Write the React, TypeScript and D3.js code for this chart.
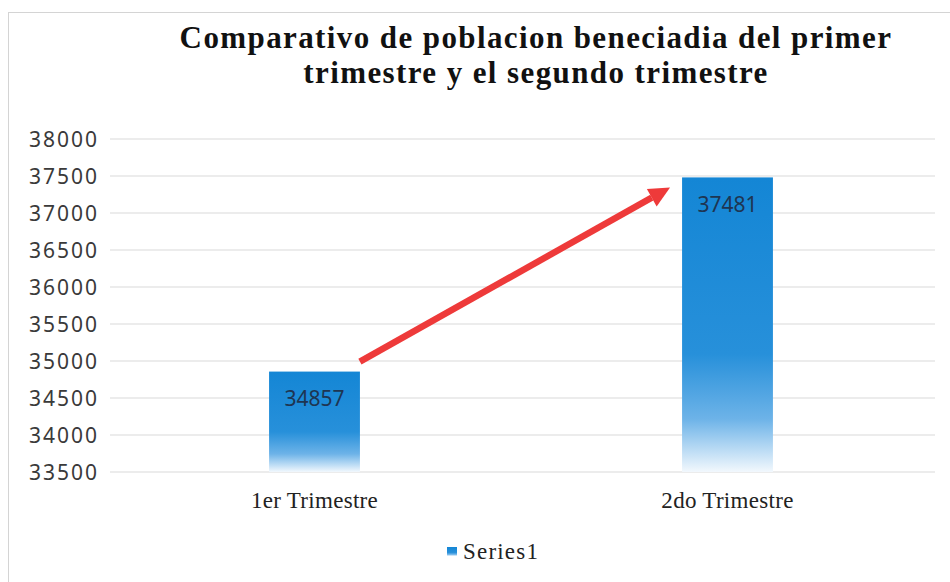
import React from "react";
import * as d3 from "d3";

const categories = ["1er Trimestre", "2do Trimestre"];
const values = [34857, 37481];
const yTicks = [33500, 34000, 34500, 35000, 35500, 36000, 36500, 37000, 37500, 38000];
const titleLines = ["Comparativo de poblacion beneciadia del primer", "trimestre y el segundo trimestre"];
const seriesName = "Series1";

const W = 950;
const H = 582;

export default function App() {
  const x = d3.scaleBand<string>().domain(categories).range([108, 934]).paddingInner(0.78).paddingOuter(0.39);
  const y = d3.scaleLinear().domain([33500, 38000]).range([472, 139]);
  const bw = x.bandwidth();

  const x1 = (x(categories[0]) ?? 0) + bw;
  const y1 = y(values[0]) - 10;
  const x2 = (x(categories[1]) ?? 0) - 12;
  const y2 = y(values[1]) + 10;
  const ang = Math.atan2(y2 - y1, x2 - x1);
  const headLen = 21;
  const headW = 10;
  const bx = x2 - headLen * Math.cos(ang);
  const by = y2 - headLen * Math.sin(ang);
  const px = -Math.sin(ang);
  const py = Math.cos(ang);

  return (
    <svg width={W} height={H} style={{ position: "absolute", left: 0, top: 0, background: "#fff" }}>
      <defs>
        <linearGradient id="barGrad" x1="0" y1="0" x2="0" y2="1">
          <stop offset="0" stopColor="#1486d5" />
          <stop offset="0.6" stopColor="#2790da" />
          <stop offset="0.82" stopColor="#6db3e8" />
          <stop offset="1" stopColor="#f2f8fd" />
        </linearGradient>
      </defs>
      <rect x={8.5} y={12.5} width={W + 10} height={H} fill="none" stroke="#d4d4d4" strokeWidth={1} />
      {titleLines.map((t, i) => (
        <text
          key={i}
          x={536}
          y={48 + i * 35}
          textAnchor="middle"
          fontFamily="Liberation Serif, serif"
          fontWeight="bold"
          fontSize={31}
          letterSpacing={1.4}
          fill="#111"
        >
          {t}
        </text>
      ))}
      {yTicks.map((t) => (
        <g key={t}>
          <line x1={110} x2={935} y1={y(t)} y2={y(t)} stroke="#d9d9d9" strokeWidth={1} />
          <text
            x={99}
            y={y(t)}
            dy="0.36em"
            textAnchor="end"
            fontFamily="Noto Sans, sans-serif"
            fontSize={21}
            letterSpacing={2}
            fill="#3a3a3a"
          >
            {t}
          </text>
        </g>
      ))}
      {categories.map((c, i) => (
        <g key={c}>
          <rect x={x(c)} y={y(values[i])} width={bw} height={y(33500) - y(values[i])} fill="url(#barGrad)" />
          <text
            x={(x(c) ?? 0) + bw / 2}
            y={y(values[i]) + 27}
            dy="0.36em"
            textAnchor="middle"
            fontFamily="Noto Sans, sans-serif"
            fontSize={21}
            fill="#1e3552"
          >
            {values[i]}
          </text>
          <text
            x={(x(c) ?? 0) + bw / 2}
            y={500}
            dy="0.36em"
            textAnchor="middle"
            fontFamily="Liberation Serif, serif"
            fontSize={23}
            letterSpacing={0.3}
            fill="#222"
          >
            {c}
          </text>
        </g>
      ))}
      <line x1={x1} y1={y1} x2={bx} y2={by} stroke="#ee3a3a" strokeWidth={6.5} />
      <polygon
        points={`${x2},${y2} ${bx + px * headW},${by + py * headW} ${bx - px * headW},${by - py * headW}`}
        fill="#ee3a3a"
      />
      <rect x={447} y={547} width={10} height={9} fill="url(#barGrad)" />
      <text x={463} y={551} dy="0.36em" fontFamily="Liberation Serif, serif" fontSize={23} letterSpacing={1.2} fill="#222">
        {seriesName}
      </text>
    </svg>
  );
}
